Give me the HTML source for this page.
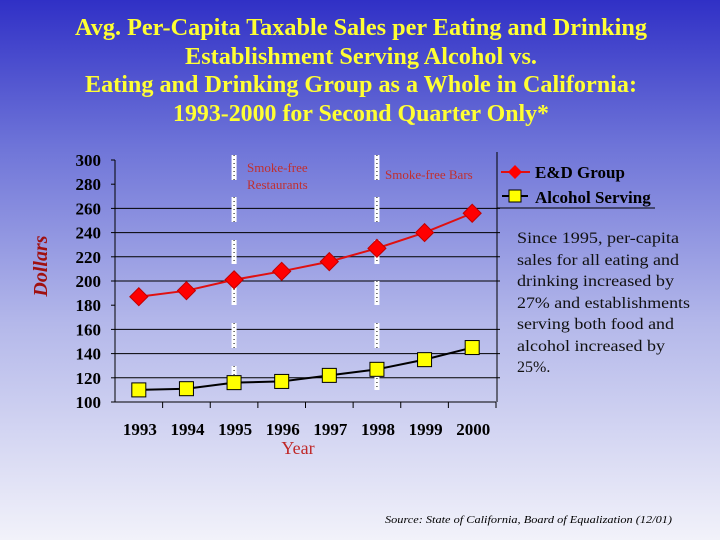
<!DOCTYPE html>
<html><head><meta charset="utf-8"><style>
html,body{margin:0;padding:0;width:720px;height:540px;overflow:hidden}
svg{display:block}
</style></head><body>
<svg id="chart" width="720" height="540" xmlns="http://www.w3.org/2000/svg" font-family="Liberation Serif, serif">
<defs><linearGradient id="bg" x1="0" y1="0" x2="0" y2="1">
<stop offset="0" stop-color="#3030c6"/><stop offset="0.27" stop-color="#6e74d8"/><stop offset="0.6" stop-color="#b4b8ea"/><stop offset="1" stop-color="#f2f2fa"/></linearGradient></defs>
<rect width="720" height="540" fill="url(#bg)"/>
<g fill="#ffff33" font-weight="bold" font-size="24" text-anchor="middle">
<text x="361" y="35" textLength="572" lengthAdjust="spacingAndGlyphs">Avg. Per-Capita Taxable Sales per Eating and Drinking</text>
<text x="361" y="64" textLength="352" lengthAdjust="spacingAndGlyphs">Establishment Serving Alcohol vs.</text>
<text x="361" y="92" textLength="552" lengthAdjust="spacingAndGlyphs">Eating and Drinking Group as a Whole in California:</text>
<text x="361" y="121" textLength="376" lengthAdjust="spacingAndGlyphs">1993-2000 for Second Quarter Only*</text>
</g>
<g id="grid"></g><g id="axes"></g><g id="marks"></g>
<text x="47" y="266" transform="rotate(-90 47 266)" text-anchor="middle" font-size="20" font-weight="bold" font-style="italic" fill="#a01010">Dollars</text>
<text x="298" y="454" text-anchor="middle" font-size="18" fill="#c02828">Year</text>
<g fill="#c03030" font-size="13"><text x="247" y="172">Smoke-free</text><text x="247" y="189">Restaurants</text></g>
<text x="385" y="179" fill="#c03030" font-size="13">Smoke-free Bars</text>
<g>
<line x1="497" y1="152" x2="497" y2="402" stroke="#000" stroke-width="1"/>
<line x1="497" y1="208" x2="655" y2="208" stroke="#000" stroke-width="1"/>
<g>
<line x1="501" y1="172" x2="530" y2="172" stroke="#e01010" stroke-width="2"/>
<polygon points="515,165 522,172 515,179 508,172" fill="#ff0000"/>
<text x="535" y="178" font-size="17" font-weight="bold">E&amp;D Group</text></g>
<g>
<line x1="502" y1="196" x2="528" y2="196" stroke="#000" stroke-width="2"/>
<rect x="509" y="190" width="12" height="12" fill="#ffff00" stroke="#000"/>
<text x="535" y="203" font-size="17" font-weight="bold">Alcohol Serving</text></g>
</g>
<g font-size="16" fill="#111">
<text x="517" y="243" textLength="162" lengthAdjust="spacingAndGlyphs">Since 1995, per-capita</text><text x="517" y="265" textLength="162" lengthAdjust="spacingAndGlyphs">sales for all eating and</text><text x="517" y="286" textLength="157" lengthAdjust="spacingAndGlyphs">drinking increased by</text><text x="517" y="308" textLength="173" lengthAdjust="spacingAndGlyphs">27% and establishments</text><text x="517" y="329" textLength="157" lengthAdjust="spacingAndGlyphs">serving both food and</text><text x="517" y="351" textLength="148" lengthAdjust="spacingAndGlyphs">alcohol increased by</text><text x="517" y="372">25%.</text></g>
<text x="385" y="523" font-size="11" font-style="italic" textLength="287" lengthAdjust="spacingAndGlyphs">Source: State of California, Board of Equalization (12/01)</text>
<script>
const years=["1993","1994","1995","1996","1997","1998","1999","2000"];
const edGroup=[187,192,201,208,216,227,240,256];
const alcoholServing=[110,111,116,117,122,127,135,145];
const yTicks=[100,120,140,160,180,200,220,240,260,280,300];
const gridValues=[120,140,160,200,220,240,260];
const smokeFreeYears=["1995","1998"];
(function(){
const NS="http://www.w3.org/2000/svg";
const L=115,R=496,T=160,B=402,yMin=100,yMax=300;
const bw=(R-L)/years.length;
const x=i=>L+bw*(i+0.5);
const y=v=>B-(v-yMin)/(yMax-yMin)*(B-T);
function mk(t,a,p){const e=document.createElementNS(NS,t);for(const k in a)e.setAttribute(k,a[k]);p.appendChild(e);return e;}
const grid=document.getElementById('grid'),axes=document.getElementById('axes'),marks=document.getElementById('marks');
gridValues.forEach(v=>{const g=mk('line',{x1:L,x2:R+4,y1:y(v),y2:y(v),stroke:'#000','stroke-width':1},grid);

});
mk('line',{x1:L,x2:L,y1:T,y2:B,stroke:'#000'},axes);
mk('line',{x1:L,x2:R,y1:B,y2:B,stroke:'#000'},axes);
yTicks.forEach(v=>{mk('line',{x1:L-4,x2:L,y1:y(v),y2:y(v),stroke:'#000'},axes);
const t=mk('text',{x:L-14,y:y(v)+6,'text-anchor':'end','font-size':17,'font-weight':'bold'},axes);t.textContent=v;

});
years.forEach((yr,i)=>{mk('line',{x1:L+bw*(i+1),x2:L+bw*(i+1),y1:B,y2:B+6,stroke:'#000'},axes);
const t=mk('text',{x:x(i)+1,y:435,'text-anchor':'middle','font-size':17,'font-weight':'bold'},axes);t.textContent=yr;

});
smokeFreeYears.forEach(yr=>{const i=years.indexOf(yr);const g=mk('g',{},marks);


[[155,180],[197,222],[240,264],[281,305],[323,348],[366,390]].forEach(s=>{
mk('rect',{x:x(i)-2.5,y:s[0],width:5,height:s[1]-s[0],fill:'#fff'},g);
mk('line',{x1:x(i),x2:x(i),y1:s[0],y2:s[1],stroke:'#000','stroke-dasharray':'1 3'},g);});});
const ed=mk('polyline',{points:edGroup.map((v,i)=>x(i)+','+y(v)).join(' '),fill:'none',stroke:'#e01010','stroke-width':2},marks);


const al=mk('polyline',{points:alcoholServing.map((v,i)=>x(i)+','+y(v)).join(' '),fill:'none',stroke:'#000','stroke-width':2},marks);


edGroup.forEach((v,i)=>{const cx=x(i),cy=y(v);
const p=mk('polygon',{points:`${cx},${cy-9} ${cx+9},${cy} ${cx},${cy+9} ${cx-9},${cy}`,fill:'#ff0000',stroke:'#c00000'},marks);

});
alcoholServing.forEach((v,i)=>{const cx=x(i),cy=y(v);
const r=mk('rect',{x:cx-7,y:cy-7,width:14,height:14,fill:'#ffff00',stroke:'#000'},marks);

});
})();
</script>
</svg>
</body></html>
